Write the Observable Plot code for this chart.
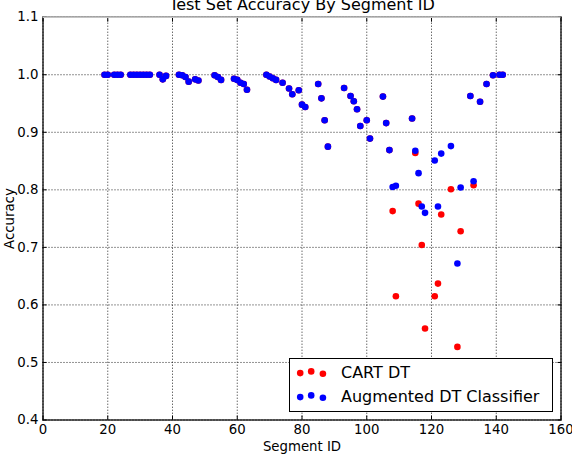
<!DOCTYPE html>
<html>
<head>
<meta charset="utf-8">
<script src="https://cdn.jsdelivr.net/npm/d3@7"></script>
<script src="https://cdn.jsdelivr.net/npm/@observablehq/plot@0.6"></script>
<style>
  html, body { margin: 0; padding: 0; background: #fff; }
  #wrap { position: relative; width: 572px; height: 454px; }
  #legend { position: absolute; left: 0; top: 0; }
</style>
</head>
<body>
<div id="wrap"></div>
<script>
const segments = [19,20,22,23,24,27,28,29,30,31,32,33,36,37,38,42,43,44,45,47,48,53,54,55,59,60,61,62,63,69,70,71,72,74,76,77,79,80,81,85,86,87,88,93,95,96,97,98,100,101,105,106,107,108,109,114,115,116,117,118,121,122,123,126,128,129,132,133,135,137,139,141,142];
const augmented = [1.000,1.000,1.000,1.000,1.000,1.000,1.000,1.000,1.000,1.000,1.000,1.000,1.000,0.992,0.998,1.000,0.999,0.996,0.988,0.992,0.990,0.999,0.996,0.991,0.993,0.991,0.986,0.984,0.974,1.000,0.997,0.994,0.991,0.986,0.976,0.966,0.973,0.948,0.944,0.984,0.959,0.921,0.875,0.977,0.963,0.954,0.940,0.911,0.921,0.889,0.962,0.916,0.869,0.805,0.807,0.924,0.868,0.829,0.771,0.760,0.851,0.771,0.863,0.876,0.672,0.804,0.963,0.815,0.953,0.984,0.999,1.000,1.000];
const cart = [1.000,1.000,1.000,1.000,1.000,1.000,1.000,1.000,1.000,1.000,1.000,1.000,1.000,0.992,0.998,1.000,0.999,0.996,0.988,0.992,0.990,0.999,0.996,0.991,0.993,0.991,0.986,0.984,0.974,1.000,0.997,0.994,0.991,0.986,0.976,0.966,0.973,0.948,0.944,0.984,0.959,0.921,0.875,0.977,0.963,0.954,0.940,0.911,0.921,0.889,0.962,0.916,0.869,0.763,0.615,0.924,0.864,0.776,0.704,0.559,0.615,0.637,0.757,0.801,0.527,0.728,0.963,0.808,0.953,0.984,0.999,1.000,1.000];
const seriesNames = ["CART DT", "Augmented DT Classifier"];
const seriesColors = ["#ff0000", "#0000ff"];
const xTicks = [0,20,40,60,80,100,120,140,160];
const yTicks = [0.4,0.5,0.6,0.7,0.8,0.9,1.0,1.1];
const title = "Test Set Accuracy By Segment ID";
const xLabel = "Segment ID";
const yLabel = "Accuracy";

const cartData = segments.map((s, i) => ({segment: s, acc: cart[i]}));
const augData = segments.map((s, i) => ({segment: s, acc: augmented[i]}));

const chart = Plot.plot({
  width: 572,
  height: 454,
  marginLeft: 42.5,
  marginRight: 11.5,
  marginTop: 16.7,
  marginBottom: 34.5,
  style: {fontFamily: "'DejaVu Sans', sans-serif", fontSize: "13.3px", color: "#000", background: "#fff"},
  x: {domain: [0, 160], ticks: xTicks},
  y: {domain: [0.4, 1.1], ticks: yTicks},
  marks: [
    Plot.gridX(xTicks, {stroke: "#000", strokeOpacity: 0.85, strokeDasharray: "1,2"}),
    Plot.gridY(yTicks, {stroke: "#000", strokeOpacity: 0.85, strokeDasharray: "1,2"}),
    Plot.dot(cartData, {x: "segment", y: "acc", r: 3.3, fill: seriesColors[0], stroke: "none"}),
    Plot.dot(augData, {x: "segment", y: "acc", r: 3.3, fill: seriesColors[1], stroke: "none"}),
    Plot.axisX(xTicks, {anchor: "bottom", tickSize: -4, tickFormat: () => "", label: null, strokeWidth: 1}),
    Plot.axisX(xTicks, {anchor: "top", tickSize: -4, tickFormat: () => "", label: null, strokeWidth: 1}),
    Plot.axisY(yTicks, {anchor: "left", tickSize: -4, tickFormat: () => "", label: null, strokeWidth: 1}),
    Plot.axisY(yTicks, {anchor: "right", tickSize: -4, tickFormat: () => "", label: null, strokeWidth: 1}),
    Plot.axisX(xTicks, {anchor: "bottom", tickSize: 0, tickPadding: 5, label: null, tickFormat: d3.format("d")}),
    Plot.axisY(yTicks, {anchor: "left", tickSize: 0, tickPadding: 4.5, label: null, tickFormat: d3.format(".1f")}),
    Plot.frame({stroke: "#000", strokeWidth: 1.25}),
    Plot.ruleY([1.1], {stroke: "#c4c4c4", strokeWidth: 1.4}),
    Plot.text([title], {frameAnchor: "top", lineAnchor: "middle", textAnchor: "middle", dy: -12.8, fontSize: 16, fill: "#000"}),
    Plot.text([xLabel], {frameAnchor: "bottom", lineAnchor: "middle", textAnchor: "middle", dy: 26.9, fontSize: 13.3, fill: "#000"}),
    Plot.text([yLabel], {frameAnchor: "left", lineAnchor: "middle", textAnchor: "middle", dx: -33.5, rotate: -90, fontSize: 13.3, fill: "#000"})
  ]
});

const wrap = document.getElementById("wrap");
wrap.appendChild(chart);

// Legend (matplotlib-style with three scatter points per entry)
const lg = d3.create("svg").attr("id", "legend").attr("width", 572).attr("height", 454)
  .style("pointer-events", "none");
const box = {x: 289.5, y: 358.5, w: 263, h: 53};
lg.append("rect").attr("x", box.x).attr("y", box.y).attr("width", box.w).attr("height", box.h)
  .attr("fill", "#fff").attr("stroke", "#000").attr("stroke-width", 1);
const dotDx = [10.7, 21.7, 33.4];
const dotDy = [0.3, -1.4, 0.9];
seriesNames.forEach((name, i) => {
  const cy = box.y + 14.3 + i * 24;
  dotDx.forEach((dx, j) => {
    lg.append("circle").attr("cx", box.x + dx).attr("cy", cy + dotDy[j]).attr("r", 3.3)
      .attr("fill", seriesColors[i]);
  });
  lg.append("text").attr("x", box.x + 51.5).attr("y", box.y + 19.4 + i * 24)
    .attr("font-family", "'DejaVu Sans', sans-serif").attr("font-size", 16).attr("fill", "#000")
    .text(name);
});
wrap.appendChild(lg.node());
</script>
</body>
</html>
